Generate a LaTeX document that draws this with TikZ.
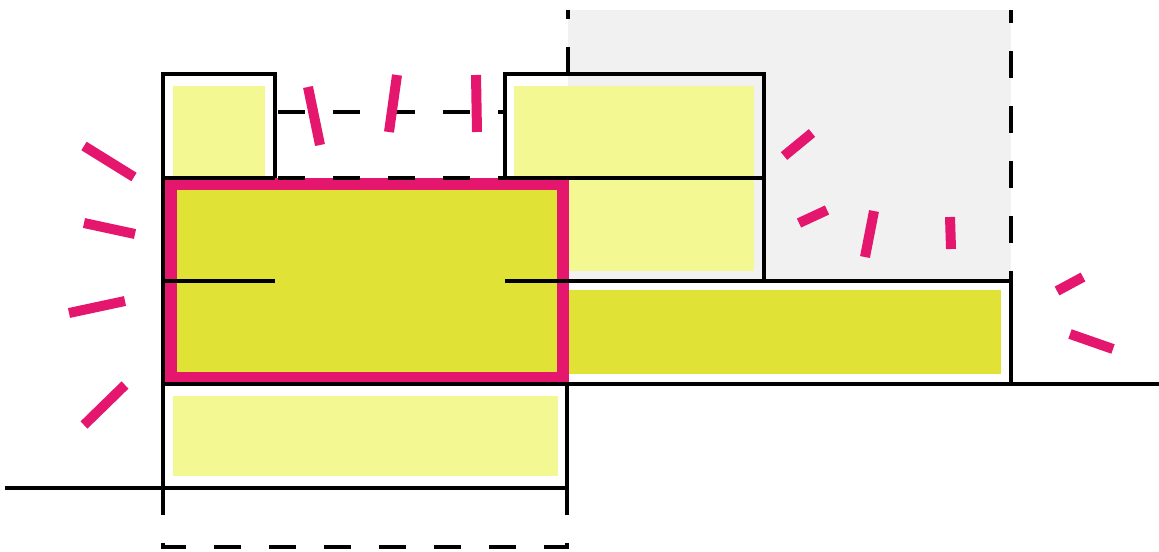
\documentclass[tikz,border=0pt]{standalone}
\definecolor{pinkx}{HTML}{E5166E}
\definecolor{darky}{HTML}{E0E335}
\definecolor{lighty}{HTML}{F3F892}
\definecolor{grayx}{HTML}{F1F1F1}
\tikzset{
  wall/.style={draw=black,line width=3.5pt},
  dashwall/.style={draw=black,line width=3.5pt,dash pattern=on 20.25pt off 21pt},
  tick/.style={draw=pinkx,line width=7.5pt},
  frame/.style={draw=pinkx,line width=9pt},
}
\begin{document}
\begin{tikzpicture}[x=0.75pt,y=-0.75pt]
\useasboundingbox (0,0) rectangle (1159,551);
% background areas
\fill[grayx] (568,10) rectangle (1011,281);
\fill[lighty] (173,86) rectangle (265,178);
\fill[lighty] (514,86) rectangle (754,271);
\fill[lighty] (173,396) rectangle (558,476);
\fill[darky] (568,290) rectangle (1001,374);
% highlighted central block
\fill[darky] (163,178) rectangle (568,384);
\draw[frame] (171,184) rectangle (563,378);
% walls
\draw[wall] (163,178) -- (163,74) -- (275,74) -- (275,178);
\draw[wall] (505,178) -- (505,74) -- (764,74) -- (764,281);
\draw[wall] (163,178) -- (275,178);
\draw[wall] (505,178) -- (764,178);
\draw[dashwall,dash phase=39pt] (275,112) -- (505,112);
\draw[dashwall,dash phase=39pt] (275,178) -- (505,178);
\draw[wall] (163,281) -- (275,281);
\draw[wall] (505,281) -- (1011,281) -- (1011,384);
\draw[wall] (163,178) -- (163,488);
\draw[wall] (163,384) -- (1159,384);
\draw[wall] (567,384) -- (567,488);
\draw[wall] (5,488) -- (567,488);
\draw[dashwall] (163,488) -- (163,547) -- (567,547) -- (567,488);
\draw[dashwall] (568,74) -- (568,10);
\draw[dashwall,dash phase=10.5pt] (1011,10) -- (1011,281);
% radiating ticks
\draw[tick] (84,146) -- (134,177);
\draw[tick] (84,223) -- (135,234);
\draw[tick] (69,313) -- (125,301);
\draw[tick] (84,425) -- (125,385);
\draw[tick] (308,87) -- (320,145);
\draw[tick] (397,75) -- (389,132);
\draw[tick] (476,75) -- (477,132);
\draw[tick] (784,156) -- (812,133);
\draw[tick] (799,223) -- (827,210);
\draw[tick] (865,257) -- (874,211);
\draw[tick] (950,217) -- (951,249);
\draw[tick] (1057,291) -- (1083,277);
\draw[tick] (1070,334) -- (1113,349);
\end{tikzpicture}
\end{document}
